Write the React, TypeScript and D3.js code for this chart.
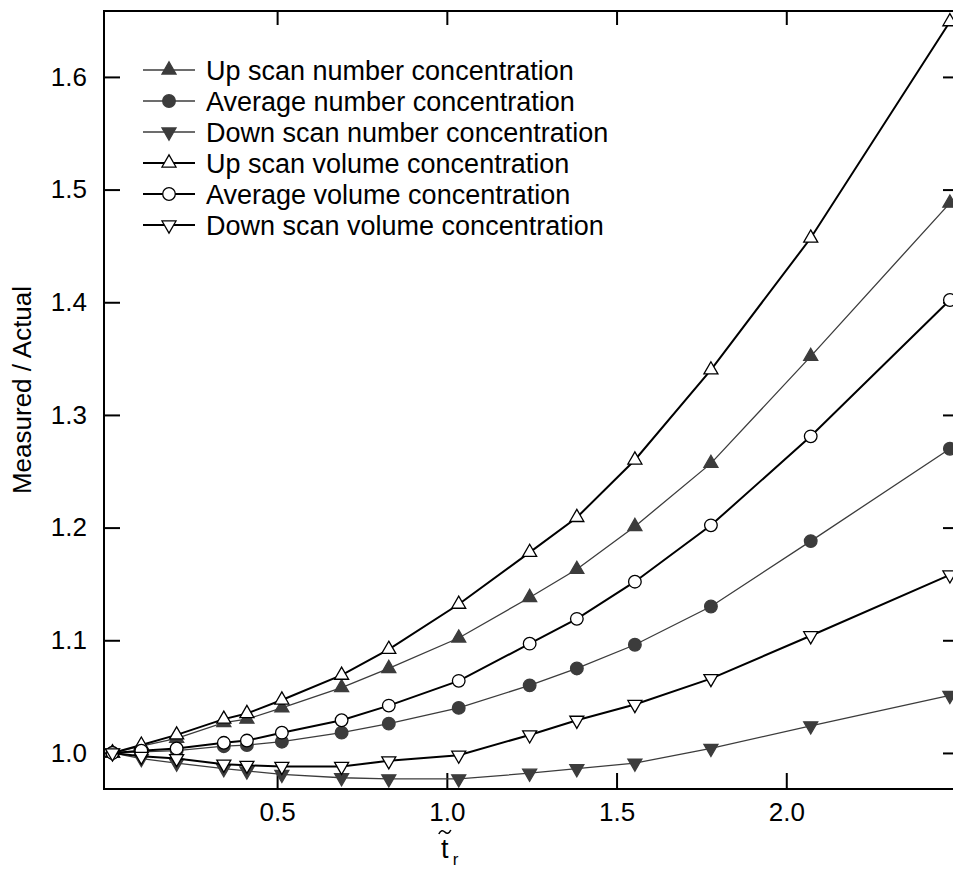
import { axisBottom, axisLeft, axisRight, axisTop, format, line, scaleLinear, select, symbol, symbolCircle, symbolTriangle } from "d3"
import { useEffect, useRef } from "react"

const tValues = [0.015, 0.1, 0.204, 0.343, 0.411, 0.514, 0.69, 0.829, 1.035, 1.244, 1.383, 1.554, 1.778, 2.072, 2.482]

const upNumber = [1.0, 1.006, 1.013, 1.027, 1.03, 1.04, 1.058, 1.075, 1.102, 1.138, 1.163, 1.201, 1.257, 1.352, 1.488]
const avgNumber = [1.0, 1.001, 1.002, 1.006, 1.007, 1.01, 1.018, 1.026, 1.04, 1.06, 1.075, 1.096, 1.13, 1.188, 1.27]
const downNumber = [1.0, 0.995, 0.991, 0.986, 0.984, 0.981, 0.978, 0.977, 0.977, 0.982, 0.986, 0.991, 1.004, 1.024, 1.051]
const upVolume = [1.0, 1.007, 1.016, 1.03, 1.035, 1.047, 1.069, 1.092, 1.132, 1.178, 1.209, 1.26, 1.34, 1.457, 1.649]
const avgVolume = [1.0, 1.002, 1.004, 1.009, 1.011, 1.018, 1.029, 1.042, 1.064, 1.097, 1.119, 1.152, 1.202, 1.281, 1.402]
const downVolume = [1.0, 0.997, 0.995, 0.99, 0.989, 0.988, 0.988, 0.993, 0.998, 1.016, 1.029, 1.043, 1.066, 1.104, 1.158]

const xTicks = [0.5, 1.0, 1.5, 2.0]
const yTicks = [1.0, 1.1, 1.2, 1.3, 1.4, 1.5, 1.6]

const series = [
    { name: "Up scan number concentration", values: upNumber, shape: "up", filled: true },
    { name: "Average number concentration", values: avgNumber, shape: "circle", filled: true },
    { name: "Down scan number concentration", values: downNumber, shape: "down", filled: true },
    { name: "Up scan volume concentration", values: upVolume, shape: "up", filled: false },
    { name: "Average volume concentration", values: avgVolume, shape: "circle", filled: false },
    { name: "Down scan volume concentration", values: downVolume, shape: "down", filled: false },
]

const font = "'Liberation Sans', Arial, Helvetica, sans-serif"
const grey = "#3c3c3c"

const markerPath = (shape) => shape === "circle"
    ? symbol(symbolCircle, 125)()
    : symbol(symbolTriangle, 85)()

const App = () => {
    const ref = useRef(null)

    useEffect(() => {
        const svg = select(ref.current)
        svg.selectAll("*").remove()

        const left = 104, right = 956, top = 11, bottom = 789
        const x = scaleLinear().domain([-0.01, 2.5]).range([left, right])
        const y = scaleLinear().domain([0.968, 1.6585]).range([bottom, top])

        const styleAxis = (g) => {
            g.select(".domain").remove()
            g.selectAll("line").attr("stroke", "#000").attr("stroke-width", 2)
            g.selectAll("text").attr("font-family", font).attr("font-size", 26).attr("fill", "#000")
        }

        svg.append("g").attr("transform", `translate(0,${bottom})`)
            .call(axisBottom(x).tickValues(xTicks).tickFormat(format(".1f")).tickSize(-16).tickPadding(14))
            .call(styleAxis)
        svg.append("g").attr("transform", `translate(${left},0)`)
            .call(axisLeft(y).tickValues(yTicks).tickFormat(format(".1f")).tickSize(-16).tickPadding(17))
            .call(styleAxis)
        svg.append("g").attr("transform", `translate(0,${top})`)
            .call(axisTop(x).tickValues(xTicks).tickFormat(() => "").tickSize(-14))
            .call(styleAxis)
        svg.append("g").attr("transform", `translate(${right},0)`)
            .call(axisRight(y).tickValues(yTicks).tickFormat(() => "").tickSize(-13))
            .call(styleAxis)

        svg.append("rect")
            .attr("x", left).attr("y", top)
            .attr("width", right - left).attr("height", bottom - top)
            .attr("fill", "none").attr("stroke", "#000").attr("stroke-width", 2)

        const path = line().x(d => x(d[0])).y(d => y(d[1]))
        const plot = svg.append("g")

        series.forEach(s => {
            const pts = tValues.map((t, i) => [t, s.values[i]])
            plot.append("path")
                .attr("d", path(pts))
                .attr("fill", "none")
                .attr("stroke", s.filled ? grey : "#000")
                .attr("stroke-width", s.filled ? 1.3 : 2)
            plot.selectAll(null)
                .data(pts)
                .join("path")
                .attr("d", markerPath(s.shape))
                .attr("transform", d => `translate(${x(d[0])},${y(d[1])})${s.shape === "down" ? " rotate(180)" : ""}`)
                .attr("fill", s.filled ? grey : "#fff")
                .attr("stroke", s.filled ? grey : "#000")
                .attr("stroke-width", 1.3)
        })

        // legend, top left inside the frame
        const legend = svg.append("g")
        series.forEach((s, i) => {
            const ly = 70 + i * 31
            const row = legend.append("g").attr("transform", `translate(0,${ly})`)
            row.append("line")
                .attr("x1", 143).attr("x2", 195)
                .attr("stroke", s.filled ? grey : "#000")
                .attr("stroke-width", s.filled ? 1.3 : 2)
            row.append("path")
                .attr("d", markerPath(s.shape))
                .attr("transform", `translate(169,0)${s.shape === "down" ? " rotate(180)" : ""}`)
                .attr("fill", s.filled ? grey : "#fff")
                .attr("stroke", s.filled ? grey : "#000")
                .attr("stroke-width", 1.3)
            row.append("text")
                .attr("x", 206).attr("dy", "0.36em")
                .attr("font-family", font).attr("font-size", 27)
                .text(s.name)
        })

        svg.append("text")
            .attr("transform", `translate(31,${(top + bottom) / 2 - 10}) rotate(-90)`)
            .attr("text-anchor", "middle")
            .attr("font-family", font).attr("font-size", 26)
            .text("Measured / Actual")

        // x title: t with a tilde above and subscript r
        const xl = svg.append("g").attr("transform", `translate(${x(1.0)},0)`)
        xl.append("text").attr("x", -2).attr("y", 858).attr("text-anchor", "middle")
            .attr("font-family", font).attr("font-size", 27).text("t")
        xl.append("path")
            .attr("d", "M-8,834 C-6,830 -4,830 -2,832 C0,834 2,834 4,830")
            .attr("fill", "none").attr("stroke", "#000").attr("stroke-width", 1.6)
        xl.append("text").attr("x", 6).attr("y", 865)
            .attr("font-family", font).attr("font-size", 17).text("r")
    }, [])

    return (
        <svg ref={ref} width={953} height={869}
            style={{ position: "absolute", left: 0, top: 0, background: "#fff" }} />
    )
}

export default App
